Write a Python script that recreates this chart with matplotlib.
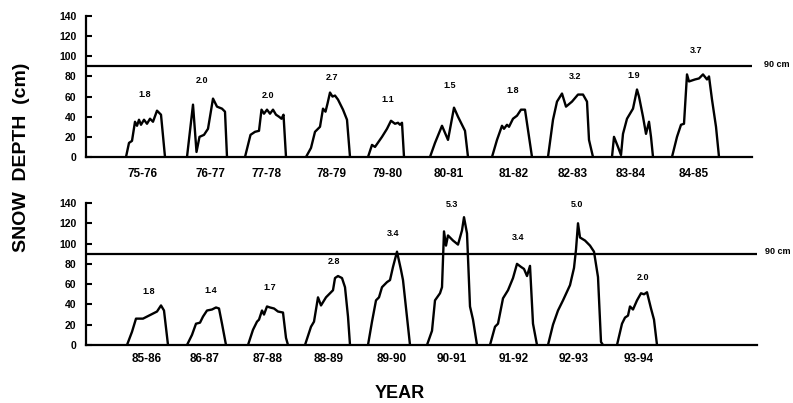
import matplotlib
matplotlib.use('Agg')
import matplotlib.pyplot as plt

plt.rcParams['font.family'] = ['Liberation Sans', 'DejaVu Sans']
plt.rcParams['font.weight'] = 'bold'

# top panel: winters 75-76 .. 84-85
top_seasons = ['75-76', '76-77', '77-78', '78-79', '79-80',
               '80-81', '81-82', '82-83', '83-84', '84-85']
top_t = [
    [40, 43, 46, 49, 51, 53, 55, 58, 61, 64, 67, 71, 75, 79],
    [101, 107, 110.5, 113.5, 118, 122, 124.5, 127, 131, 136, 139, 141],
    [159, 164.5, 169, 173, 175.5, 178, 181, 184, 187, 190, 193, 195.5, 197.5, 200],
    [220, 225, 229, 234, 237, 239.5, 241.5, 244, 246.5, 249, 252, 257, 261, 264],
    [282, 286, 289, 296, 301, 305, 309, 312, 314, 316, 318],
    [344, 349, 356, 362, 368, 372, 379, 382],
    [406, 411, 416, 418, 421, 423, 427, 431, 435, 439, 446],
    [462, 467, 471, 476, 480, 486, 492, 497, 501, 503, 507],
    [526, 528, 532, 535, 537, 541, 544, 547, 551, 553, 557, 560, 563, 565, 567],
    [586, 591, 595, 598, 601, 603, 609, 613, 617, 621, 623, 626, 630, 633],
]
top_d = [
    [0, 14, 16, 35, 31, 37, 32, 37, 33, 38, 35, 46, 42, 0],
    [0, 52, 5, 20, 22, 28, 43, 58, 50, 48, 45, 0],
    [0, 22, 25, 26, 47, 43, 47, 43, 47, 42, 40, 38, 42, 0],
    [0, 9, 25, 30, 48, 45, 53, 64, 60, 61, 57, 47, 37, 0],
    [0, 12, 10, 20, 28, 36, 33, 34, 32, 34, 0],
    [0, 14, 31, 17, 49, 40, 26, 0],
    [0, 17, 31, 28, 32, 30, 38, 41, 47, 47, 0],
    [0, 37, 55, 63, 50, 55, 62, 62, 55, 17, 0],
    [0, 20, 10, 2, 23, 38, 43, 48, 67, 60, 40, 23, 35, 20, 0],
    [0, 20, 32, 33, 82, 75, 77, 78, 82, 77, 80, 57, 30, 0],
]
top_centers = [57, 124, 180, 245, 302, 363, 428, 487, 545, 608]
top_swe = ['1.8', '2.0', '2.0', '2.7', '1.1', '1.5', '1.8', '3.2', '1.9', '3.7']
top_swe_t = [59, 116, 182, 246, 302, 364, 427, 489, 548, 610]
top_swe_d = [62, 76, 61, 79, 57, 71, 66, 80, 81, 106]

# bottom panel: winters 85-86 .. 93-94
bot_seasons = ['85-86', '86-87', '87-88', '88-89', '89-90',
               '90-91', '91-92', '92-93', '93-94']
bot_t = [
    [41, 46, 50, 57, 61, 65, 69, 71, 73, 75, 78, 82],
    [101, 106, 110, 114, 117, 121, 126, 130, 133, 136, 140],
    [162, 167, 171, 173, 176, 178, 181, 184, 188, 192, 197, 200, 202],
    [219, 225, 228, 232, 235, 240, 244, 247, 249, 252, 256, 259, 262, 264],
    [282, 286, 290, 293, 296, 301, 304, 307, 311, 315, 317, 324],
    [341, 346, 349, 354, 356, 358, 360, 362, 367, 372, 376, 378, 381, 384, 387, 391],
    [404, 409, 412, 417, 422, 427, 431, 435, 438, 441, 444, 447, 451],
    [462, 467, 472, 477, 484, 488, 490, 492, 494, 499, 504, 508, 512, 515, 517],
    [531, 536, 539, 542, 544, 547, 551, 555, 558, 561, 565, 568, 571],
]
bot_d = [
    [0, 13, 26, 26, 28, 30, 32, 33, 36, 39, 34, 0],
    [0, 10, 21, 22, 28, 34, 35, 37, 36, 21, 0],
    [0, 15, 23, 25, 34, 30, 38, 37, 36, 33, 32, 7, 0],
    [0, 18, 23, 47, 39, 47, 51, 54, 66, 68, 66, 57, 28, 0],
    [0, 23, 44, 47, 57, 62, 64, 77, 92, 74, 64, 0],
    [0, 14, 44, 51, 57, 112, 98, 108, 103, 99, 113, 126, 110, 38, 25, 0],
    [0, 18, 21, 46, 54, 66, 80, 77, 75, 68, 78, 21, 0],
    [0, 20, 34, 44, 59, 76, 94, 120, 106, 103, 98, 92, 67, 3, 0],
    [0, 21, 27, 29, 38, 35, 44, 51, 50, 52, 36, 25, 0],
]
bot_centers = [61, 119, 182, 243, 306, 366, 428, 488, 553]
bot_swe = ['1.8', '1.4', '1.7', '2.8', '3.4', '5.3', '3.4', '5.0', '2.0']
bot_swe_t = [63, 125, 184, 248, 307, 366, 432, 491, 557]
bot_swe_d = [53, 54, 57, 82, 110, 139, 106, 139, 67]

limit_cm = 90


def draw_panel(ax, ts, ds, centers, seasons, swe, swe_t, swe_d, xmax, pad, lab_x):
    for t, d in zip(ts, ds):
        ax.plot(t, d, color='black', lw=1.7)
    ax.axhline(limit_cm, color='black', lw=1.6)
    for s, x, y in zip(swe, swe_t, swe_d):
        ax.text(x, y, s, ha='center', va='center', fontsize=6.5, fontweight='bold')
    ax.text(lab_x, limit_cm + 2, '90 cm', ha='left', va='center',
            fontsize=6.5, fontweight='bold', clip_on=False)
    ax.set_xlim(0, xmax)
    ax.set_ylim(0, 140)
    ax.set_yticks(range(0, 141, 20))
    ax.set_xticks(centers, seasons)
    ax.tick_params(axis='x', length=0, pad=pad, labelsize=8.5)
    ax.tick_params(axis='y', direction='in', length=4, width=1.5, pad=7, labelsize=7.5)
    for lab in ax.get_xticklabels() + ax.get_yticklabels():
        lab.set_fontweight('bold')
    ax.spines['top'].set_visible(False)
    ax.spines['right'].set_visible(False)
    ax.spines['left'].set_linewidth(1.6)
    ax.spines['bottom'].set_linewidth(1.6)
    ax.patch.set_alpha(0)


fig = plt.figure(figsize=(7.93, 4.03), dpi=100)
ax1 = fig.add_axes([86 / 793, 1 - 157 / 403, 666 / 793, 141 / 403])
ax2 = fig.add_axes([86 / 793, 1 - 345 / 403, 671 / 793, 142 / 403])

draw_panel(ax1, top_t, top_d, top_centers, top_seasons,
           top_swe, top_swe_t, top_swe_d, 666, 8, 678)
draw_panel(ax2, bot_t, bot_d, bot_centers, bot_seasons,
           bot_swe, bot_swe_t, bot_swe_d, 671, 6, 679)

fig.text(22 / 793, 1 - 157 / 403, 'SNOW  DEPTH  (cm)', rotation=90,
         ha='center', va='center', fontsize=14, fontweight='bold')
fig.text(400 / 793, 1 - 394 / 403, 'YEAR', ha='center', va='center',
         fontsize=13, fontweight='bold')

fig.savefig('out.png', dpi=100)
